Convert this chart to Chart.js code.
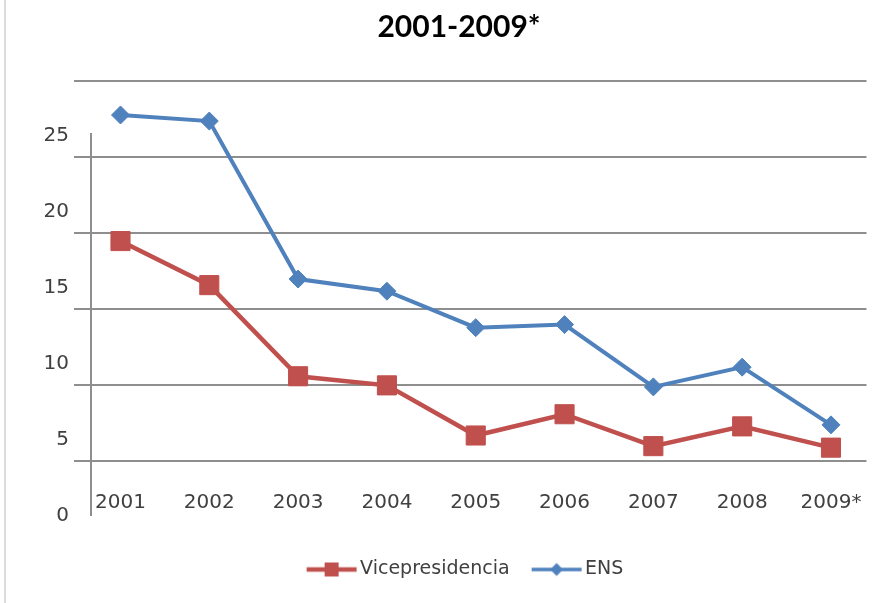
<!DOCTYPE html>
<html>
<head>
<meta charset="utf-8">
<script src="https://cdn.jsdelivr.net/npm/chart.js@4/dist/chart.umd.min.js"></script>
<style>
  html, body { margin: 0; padding: 0; background: #ffffff; }
  #wrap { position: relative; width: 881px; height: 603px; }
  #frame { position: absolute; left: 4px; top: 0; width: 2px; height: 603px; background: #dcdcdc; }
  canvas { position: absolute; left: 0; top: 0; }
</style>
</head>
<body>
<div id="wrap">
  <canvas id="c" width="881" height="603"></canvas>
  <div id="frame"></div>
</div>
<script>
// ---- data ----
const years = ['2001', '2002', '2003', '2004', '2005', '2006', '2007', '2008', '2009*'];
const vicepresidencia = [18.1, 15.2, 9.2, 8.6, 5.3, 6.7, 4.6, 5.9, 4.5];
const ens = [26.4, 26.0, 15.6, 14.8, 12.4, 12.6, 8.5, 9.8, 6.0];
const yTickValues = [0, 5, 10, 15, 20, 25];
const seriesNames = ['Vicepresidencia', 'ENS'];
const titleText = '2001-2009*';

const RED = '#C0504D';
const BLUE = '#4F81BD';
const GRID = '#8e8e8e';
const TEXT = '#404040';

const X_MIN = -0.332, X_MAX = 8.4;

function toPoints(arr) { return arr.map((v, i) => ({ x: i, y: v })); }

function legendImage(color, kind, lw) {
  const cv = document.createElement('canvas');
  cv.width = 100; cv.height = 22;
  const g = cv.getContext('2d');
  g.strokeStyle = color; g.fillStyle = color; g.lineWidth = lw;
  g.beginPath(); g.moveTo(34, 11); g.lineTo(84, 11); g.stroke();
  if (kind === 'square') {
    g.fillRect(59 - 7, 11 - 7, 14, 14);
  } else {
    g.beginPath(); g.moveTo(59, 4.5); g.lineTo(65.5, 11); g.lineTo(59, 17.5); g.lineTo(52.5, 11); g.closePath(); g.fill();
  }
  return cv;
}
const legendImgs = [legendImage(RED, 'square', 4.5), legendImage(BLUE, 'diamond', 3.5)];

new Chart(document.getElementById('c'), {
  type: 'line',
  data: {
    datasets: [
      {
        label: seriesNames[0],
        data: toPoints(vicepresidencia),
        borderColor: RED, backgroundColor: RED,
        borderWidth: 4.5,
        pointStyle: 'rect', pointRadius: 13.5, pointBorderWidth: 1,
        pointBackgroundColor: RED, pointBorderColor: RED,
        tension: 0, yAxisID: 'y', xAxisID: 'x'
      },
      {
        label: seriesNames[1],
        data: toPoints(ens),
        borderColor: BLUE, backgroundColor: BLUE,
        borderWidth: 4,
        pointStyle: 'rectRot', pointRadius: 9, pointBorderWidth: 1,
        pointBackgroundColor: BLUE, pointBorderColor: BLUE,
        tension: 0, yAxisID: 'y', xAxisID: 'x'
      }
    ]
  },
  options: {
    responsive: false,
    animation: false,
    events: [],
    layout: { padding: { left: 37, right: 0, top: 0, bottom: 14 } },
    plugins: {
      tooltip: { enabled: false },
      title: {
        display: true,
        text: titleText,
        color: '#000000',
        font: { family: 'Lato', size: 30, weight: 'bold', lineHeight: 1.2 },
        padding: { top: 9.5, bottom: 33.5 }
      },
      legend: {
        display: true,
        position: 'bottom',
        labels: {
          usePointStyle: true,
          pointStyleWidth: 56,
          padding: 10,
          color: TEXT,
          font: { family: 'DejaVu Sans', size: 19 },
          generateLabels(chart) {
            const items = Chart.defaults.plugins.legend.labels.generateLabels(chart);
            items.forEach((it, i) => { it.pointStyle = legendImgs[i]; it.fontColor = TEXT; });
            return items;
          }
        }
      }
    },
    scales: {
      x: {
        type: 'linear',
        position: 'bottom',
        min: X_MIN,
        max: X_MAX,
        afterBuildTicks(scale) {
          scale.ticks = [{ value: X_MIN }].concat(years.map((_, i) => ({ value: i })));
        },
        grid: {
          display: true,
          drawTicks: false,
          lineWidth: 2,
          color: (ctx) => (ctx.index === 0 ? GRID : 'rgba(0,0,0,0)')
        },
        border: { display: false, dash: [0, 54, 600, 0] },
        afterFit(scale) { scale.height = 34; },
        ticks: {
          autoSkip: false,
          maxRotation: 0,
          mirror: true,
          padding: 1.4,
          color: TEXT,
          font: { family: 'DejaVu Sans', size: 20 },
          callback: (v) => (Number.isInteger(v) && years[v] !== undefined ? years[v] : '')
        }
      },
      y2: {
        type: 'linear',
        position: 'left',
        weight: 0,
        min: -3.62,
        max: 25.15,
        grid: { display: true, color: GRID, lineWidth: 2, drawTicks: true, tickLength: 17 },
        border: { display: false },
        ticks: { display: false, stepSize: 5, includeBounds: false },
        afterFit(scale) { scale.width = 17; }
      },
      y: {
        type: 'linear',
        position: 'left',
        weight: 1,
        min: 0,
        max: 28.77,
        grid: { display: false, drawTicks: false },
        border: { display: false },
        afterBuildTicks(scale) { scale.ticks = yTickValues.map(v => ({ value: v })); },
        afterFit(scale) { scale.width = 37; },
        ticks: {
          padding: 5,
          color: TEXT,
          font: { family: 'DejaVu Sans', size: 20 },
          callback: (v) => String(v)
        }
      }
    }
  }
});
</script>
</body>
</html>
